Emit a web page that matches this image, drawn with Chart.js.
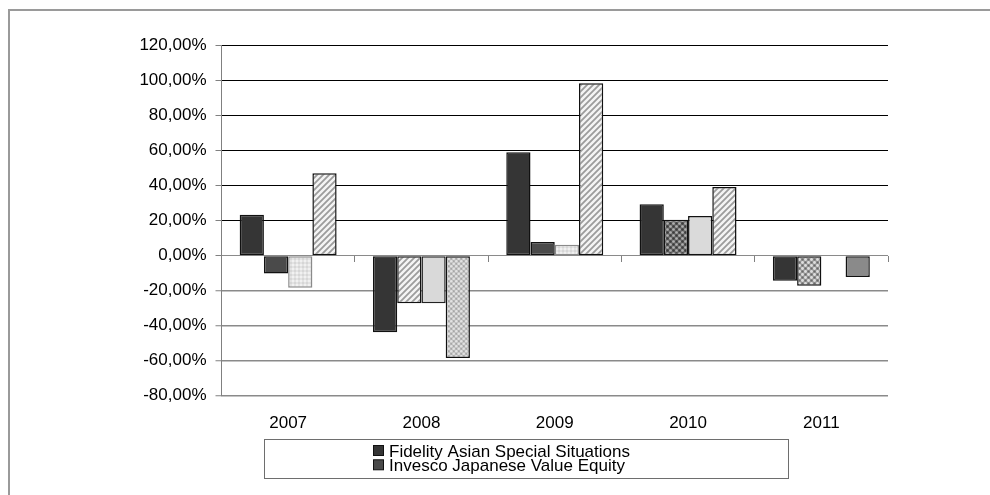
<!DOCTYPE html>
<html>
<head>
<meta charset="utf-8">
<script src="https://cdn.jsdelivr.net/npm/chart.js@4/dist/chart.umd.min.js"></script>
<style>
  html, body { margin: 0; padding: 0; background: #fff; }
  #wrap { position: relative; width: 990px; height: 495px; overflow: hidden; }
  #frame { position: absolute; left: 8px; top: 9px; right: -4px; bottom: -4px;
           border-left: 2px solid #9a9a9a; border-top: 2px solid #9a9a9a; }
  canvas { position: absolute; left: 0; top: 0; }
</style>
</head>
<body>
<div id="wrap">
  <div id="frame"></div>
  <canvas id="chart" width="990" height="495"></canvas>
</div>
<script>
// Yearly returns, in percent
const years = ['2007', '2008', '2009', '2010', '2011'];
const fidelityAsianSpecial = [23.4, -43.8, 59.1, 29.4, -14.3];
const invescoJapaneseValue = [-10.1, -27.2, 7.8, 20.6, -17.1];
const thirdFund = [-18.3, -27.2, 6.3, 22.7, null];
const fourthFund = [47.1, -58.5, 98.5, 39.3, -12.2];
const seriesNames = ['Fidelity Asian Special Situations', 'Invesco Japanese Value Equity', 'Fund 3', 'Fund 4'];

// Value axis range
const yMin = -80, yMax = 120, yStep = 20;

// ---- fill patterns ----
function tile(size, draw) {
  const c = document.createElement('canvas');
  c.width = c.height = size;
  const g = c.getContext('2d');
  draw(g, size);
  return g.createPattern(c, 'repeat');
}
function dot(g, x, y, r) { g.beginPath(); g.arc(x, y, r, 0, Math.PI * 2); g.fill(); }

const hatch = tile(6, (g, s) => {
  g.fillStyle = '#f4f4f4'; g.fillRect(0, 0, s, s);
  g.strokeStyle = '#9c9c9c'; g.lineWidth = 1.8;
  g.beginPath();
  g.moveTo(0, s); g.lineTo(s, 0);
  g.moveTo(-1, 1); g.lineTo(1, -1);
  g.moveTo(s - 1, s + 1); g.lineTo(s + 1, s - 1);
  g.stroke();
});
const dotsLight = tile(4, (g, s) => {
  g.fillStyle = '#e3e3e3'; g.fillRect(0, 0, s, s);
  g.fillStyle = '#f1f1f1'; g.fillRect(0, 0, 2, 2);
  g.fillStyle = '#d6d6d6'; g.fillRect(2, 2, 2, 2);
});
const dotsGray = tile(5, (g, s) => {
  g.fillStyle = '#c0c0c0'; g.fillRect(0, 0, s, s);
  g.fillStyle = '#e2e2e2'; dot(g, 1.25, 1.25, 1.2); dot(g, 3.75, 3.75, 1.2);
  g.fillStyle = '#a6a6a6'; dot(g, 3.75, 1.25, 0.9); dot(g, 1.25, 3.75, 0.9);
});
const checkDark = tile(6, (g, s) => {
  g.fillStyle = '#6a6a6a'; g.fillRect(0, 0, s, s);
  g.fillStyle = '#b0b0b0'; dot(g, 1.5, 1.5, 1.3); dot(g, 4.5, 4.5, 1.3);
  g.fillStyle = '#3c3c3c'; dot(g, 4.5, 1.5, 1.2); dot(g, 1.5, 4.5, 1.2);
});
const checkMid = tile(6, (g, s) => {
  g.fillStyle = '#9a9a9a'; g.fillRect(0, 0, s, s);
  g.fillStyle = '#dedede'; dot(g, 1.5, 1.5, 1.4); dot(g, 4.5, 4.5, 1.4);
  g.fillStyle = '#6a6a6a'; dot(g, 4.5, 1.5, 1.1); dot(g, 1.5, 4.5, 1.1);
});

const fills = [
  ['#353535', '#353535', '#353535', '#353535', '#353535'],
  ['#4a4a4a', hatch, '#4a4a4a', checkDark, checkMid],
  [dotsLight, '#d9d9d9', dotsLight, '#dadada', '#ffffff'],
  [hatch, dotsGray, hatch, hatch, '#8a8a8a']
];
const edges = [
  ['#111', '#111', '#111', '#111', '#111'],
  ['#111', '#111', '#111', '#111', '#111'],
  ['#8a8a8a', '#222', '#8a8a8a', '#111', '#111'],
  ['#111', '#111', '#111', '#111', '#111']
];

const FONT = "'Liberation Sans', Arial, sans-serif";
const FONT_SIZE = 17;
const values = [fidelityAsianSpecial, invescoJapaneseValue, thirdFund, fourthFund];

const datasets = values.map((v, i) => ({
  label: seriesNames[i],
  data: v,
  backgroundColor: fills[i],
  borderColor: edges[i],
  borderWidth: 1.5,
  borderSkipped: false,
  categoryPercentage: 4 / 5.5,
  barPercentage: 1.0,
  xAxisID: 'x'
}));

// Boxed two-line legend under the plot
const boxLegend = {
  id: 'boxLegend',
  afterDraw(chart) {
    const ctx = chart.ctx;
    ctx.save();
    ctx.strokeStyle = '#6e6e6e';
    ctx.lineWidth = 1;
    ctx.strokeRect(264.5, 439.5, 524, 39);
    ctx.font = FONT_SIZE + 'px ' + FONT;
    ctx.textBaseline = 'alphabetic';
    for (let i = 0; i < 2; i++) {
      const ds = chart.data.datasets[i];
      const y = 445.5 + i * 14.3;
      ctx.fillStyle = ds.backgroundColor[0];
      ctx.fillRect(373.5, y, 10, 10);
      ctx.strokeStyle = '#111';
      ctx.strokeRect(373.5, y, 10, 10);
      ctx.fillStyle = '#000';
      ctx.fillText(ds.label, 389, y + 11);
    }
    ctx.restore();
  }
};

new Chart(document.getElementById('chart'), {
  type: 'bar',
  data: { labels: years, datasets },
  plugins: [boxLegend],
  options: {
    responsive: false,
    animation: false,
    layout: { padding: { top: 45.7, right: 102, bottom: 0, left: 0 } },
    plugins: { legend: { display: false }, tooltip: { enabled: false } },
    scales: {
      x: {
        type: 'category',
        position: 'bottom',
        offset: true,
        grid: { display: false },
        border: { display: false },
        ticks: { color: '#000', font: { family: FONT, size: FONT_SIZE }, padding: 9.5, maxRotation: 0 },
        afterFit: s => { s.height = 495 - 395.7; }
      },
      xZero: {
        type: 'category',
        axis: 'x',
        position: { y: 0 },
        offset: true,
        grid: { offset: true, drawOnChartArea: false, drawTicks: true, tickLength: 6, color: '#808080' },
        border: { display: false },
        ticks: { display: false }
      },
      y: {
        min: yMin,
        max: yMax,
        ticks: {
          stepSize: yStep,
          color: '#000',
          padding: 9,
          font: { family: FONT, size: FONT_SIZE },
          callback: v => v.toFixed(2).replace('.', ',') + '%'
        },
        grid: {
          color: c => (c.tick && c.tick.value > 0) ? '#000' : '#8a8a8a',
          lineWidth: c => (c.tick && c.tick.value < 0) ? 1.5 : 1,
          tickLength: 6,
          tickColor: '#808080',
          tickWidth: 1
        },
        border: { color: '#808080', width: 1 },
        afterFit: s => { s.width = 221.5; }
      }
    }
  }
});
</script>
</body>
</html>
